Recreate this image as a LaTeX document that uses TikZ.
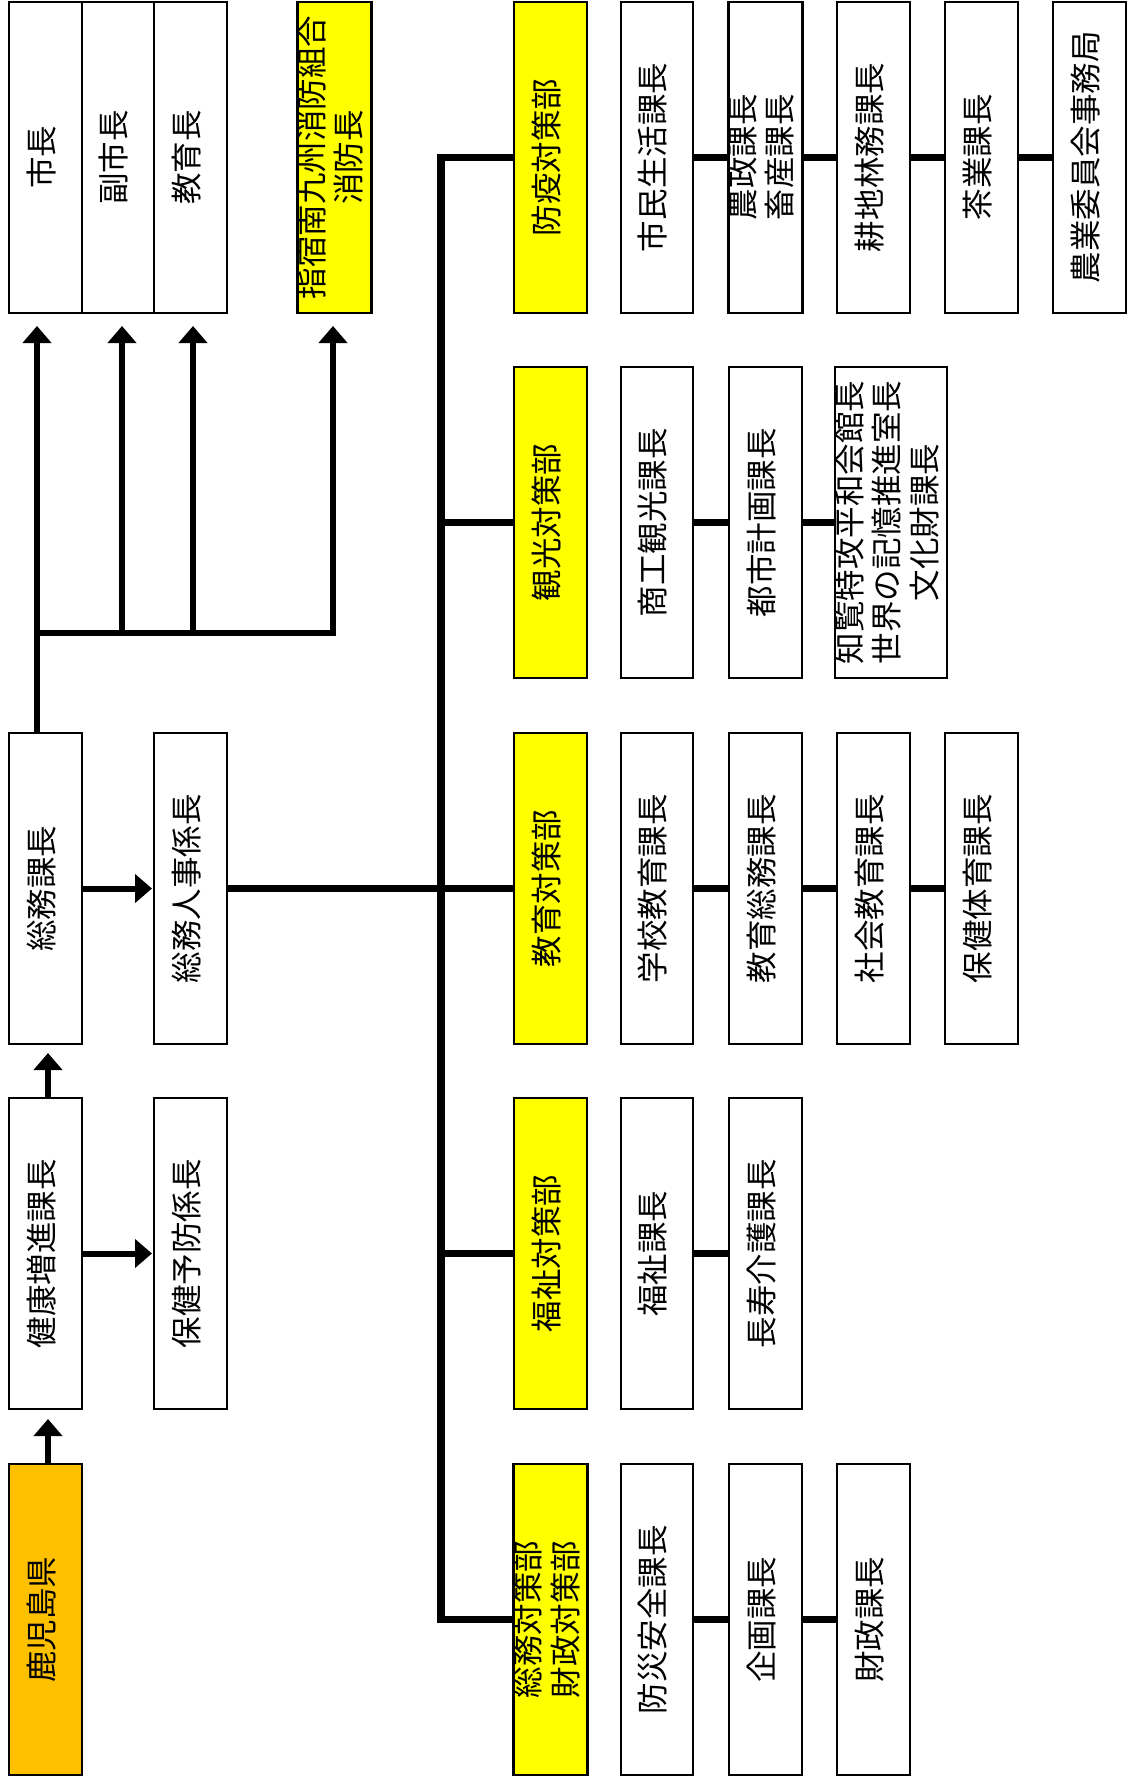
\documentclass[tikz,border=0pt]{standalone}
\usepackage{graphicx}
\usepackage{fontspec}
\setmainfont{Noto Sans CJK JP}
\usetikzlibrary{arrows.meta,calc}
\newcommand{\vtxt}[1]{\rotatebox{90}{\begin{tabular}{@{}c@{}}#1\end{tabular}}}
\definecolor{boxyellow}{HTML}{FFFF00}
\definecolor{boxorange}{HTML}{FFC000}
\begin{document}
\begin{tikzpicture}[x=1pt,y=-1pt,
  box/.style={draw=black, line width=2.8pt, inner sep=0pt, outer sep=0pt, fill=white,
    minimum width=73pt, minimum height=311pt, font=\fontsize{31.5}{36}\selectfont},
  ybox/.style={box, fill=boxyellow},
  obox/.style={box, fill=boxorange},
  conn/.style={line width=7.5pt},
  ln/.style={line width=6pt},
  arr/.style={line width=6pt, -{Triangle[width=28pt,length=17pt]}}
]
\fill[white] (0,0) rectangle (1131,1787);
\useasboundingbox (0,0) rectangle (1131,1787);

% ---- row 1 ----
\node[box] (shichou) at (45.5,157.5) {\vtxt{市長}};
\node[box, minimum width=72pt] (fukushichou) at (118,157.5) {\vtxt{副市長}};
\node[box] (kyouikuchou) at (190.5,157.5) {\vtxt{教育長}};
\node[ybox] (shoubou) at (334.5,157.5) {\vtxt{指宿南九州消防組合\\消防長}};
\node[ybox] (bouekitai) at (550.5,157.5) {\vtxt{防疫対策部}};
\node[box, minimum width=72pt] (shimin) at (657,157.5) {\vtxt{市民生活課長}};
\node[box] (nousei) at (765.5,157.5) {\vtxt{農政課長\\畜産課長}};
\node[box] (kouchi) at (873.5,157.5) {\vtxt{耕地林務課長}};
\node[box] (chagyou) at (981.5,157.5) {\vtxt{茶業課長}};
\node[box] (nouiinkai) at (1089.5,157.5) {\vtxt{農業委員会事務局}};

% ---- row 2 ----
\node[ybox] (kankoutai) at (550.5,522.5) {\vtxt{観光対策部}};
\node[box, minimum width=72pt] (shoukou) at (657,522.5) {\vtxt{商工観光課長}};
\node[box] (toshi) at (765.5,522.5) {\vtxt{都市計画課長}};
\node[box, minimum width=108pt] (chiran) at (891,522.5) {\vtxt{知覧特攻平和会館長\\世界の記憶推進室長\\文化財課長}};

% ---- row 3 ----
\node[box] (soumuka) at (45.5,888.5) {\vtxt{総務課長}};
\node[box] (jinji) at (190.5,888.5) {\vtxt{総務人事係長}};
\node[ybox] (kyouikutai) at (550.5,888.5) {\vtxt{教育対策部}};
\node[box, minimum width=72pt] (gakkou) at (657,888.5) {\vtxt{学校教育課長}};
\node[box] (kyouikusoumu) at (765.5,888.5) {\vtxt{教育総務課長}};
\node[box] (shakai) at (873.5,888.5) {\vtxt{社会教育課長}};
\node[box] (hoken) at (981.5,888.5) {\vtxt{保健体育課長}};

% ---- row 4 ----
\node[box] (kenkou) at (45.5,1253.5) {\vtxt{健康増進課長}};
\node[box] (yobou) at (190.5,1253.5) {\vtxt{保健予防係長}};
\node[ybox] (fukushitai) at (550.5,1253.5) {\vtxt{福祉対策部}};
\node[box, minimum width=72pt] (fukushi) at (657,1253.5) {\vtxt{福祉課長}};
\node[box] (choujyu) at (765.5,1253.5) {\vtxt{長寿介護課長}};

% ---- row 5 ----
\node[obox] (kagoshima) at (45.5,1619.5) {\vtxt{鹿児島県}};
\node[ybox] (soumutai) at (550.5,1619.5) {\vtxt{総務対策部\\財政対策部}};
\node[box, minimum width=72pt] (bousai) at (657,1619.5) {\vtxt{防災安全課長}};
\node[box] (kikaku) at (765.5,1619.5) {\vtxt{企画課長}};
\node[box] (zaisei) at (873.5,1619.5) {\vtxt{財政課長}};

% ---- coordinates ----
\coordinate (trunk) at (441,0);
\coordinate (ja) at (37,633);
\coordinate (jb) at (122,633);
\coordinate (jc) at (193,633);
\coordinate (jd) at (333,633);
\coordinate (ka) at (48,0);

% ---- trunk and branches ----
\draw[conn] (bouekitai.west) -- (bouekitai.west -| trunk) -- (soumutai.west -| trunk) -- (soumutai.west);
\draw[conn] (kankoutai.west -| trunk) -- (kankoutai.west);
\draw[conn] (fukushitai.west -| trunk) -- (fukushitai.west);
\draw[conn] (jinji.east) -- (kyouikutai.west);

% ---- chains ----
\draw[conn] (shimin.east) -- (nousei.west);
\draw[conn] (nousei.east) -- (kouchi.west);
\draw[conn] (kouchi.east) -- (chagyou.west);
\draw[conn] (chagyou.east) -- (nouiinkai.west);
\draw[conn] (shoukou.east) -- (toshi.west);
\draw[conn] (toshi.east) -- (chiran.west);
\draw[conn] (gakkou.east) -- (kyouikusoumu.west);
\draw[conn] (kyouikusoumu.east) -- (shakai.west);
\draw[conn] (shakai.east) -- (hoken.west);
\draw[conn] (fukushi.east) -- (choujyu.west);
\draw[conn] (bousai.east) -- (kikaku.west);
\draw[conn] (kikaku.east) -- (zaisei.west);

% ---- upward arrows to top row ----
\draw[ln] (soumuka.north -| ja) -- (ja);
\draw[ln] ($(ja)+(-3,0)$) -- ($(jd)+(3,0)$);
\draw[arr] (ja) -- ($(shichou.south -| ja)+(0,13)$);
\draw[arr] (jb) -- ($(fukushichou.south -| jb)+(0,13)$);
\draw[arr] (jc) -- ($(kyouikuchou.south -| jc)+(0,13)$);
\draw[arr] (jd) -- ($(shoubou.south -| jd)+(0,13)$);

% ---- left column arrows ----
\draw[arr] (kagoshima.north -| ka) -- ($(kenkou.south -| ka)+(0,10)$);
\draw[arr] (kenkou.north -| ka) -- ($(soumuka.south -| ka)+(0,9)$);
\draw[arr] (soumuka.east) -- ($(jinji.west)+(-2,0)$);
\draw[arr] (kenkou.east) -- ($(yobou.west)+(-2,0)$);
\end{tikzpicture}
\end{document}
